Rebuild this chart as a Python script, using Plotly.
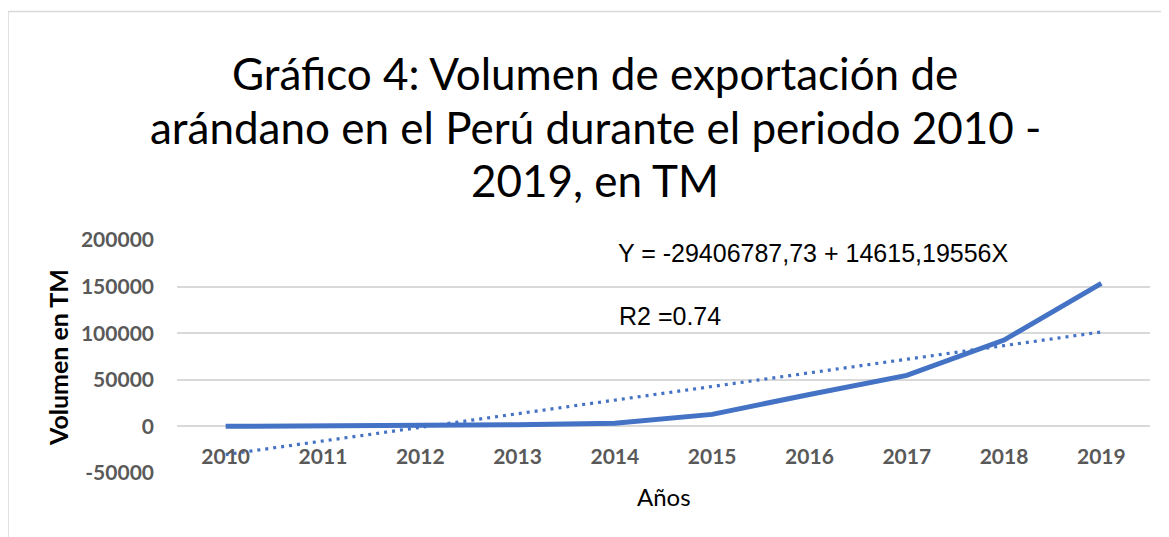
import plotly.graph_objects as go

# ---- data ----
years = ["2010", "2011", "2012", "2013", "2014", "2015", "2016", "2017", "2018", "2019"]
volumen = [100, 300, 800, 1800, 3400, 12900, 34300, 54700, 92600, 153400]
# trend line coefficients as printed on the chart
intercept = -29406787.73
slope = 14615.19556
trend = [intercept + slope * int(y) for y in years]

title_lines = ["Gráfico 4: Volumen de exportación de",
               "arándano en el Perú durante el periodo 2010 -",
               "2019, en TM"]
eq_text = "Y = -29406787,73 + 14615,19556X"
r2_text = "R2 =0.74"

OFF = 8  # page body margin
W, H = 1169 - OFF, 537 - OFF
# plot area bounds in page pixels
L, R, T, B = 177, 1150, 240, 473
pw, ph = R - L, B - T

def px(xp):
    return (xp - L) / pw

def py(yp):
    return (B - yp) / ph

BLUE = "#4472C4"
GRID = "#d9d9d9"

fig = go.Figure()
fig.add_trace(go.Scatter(x=years, y=volumen, mode="lines",
                         line=dict(color=BLUE, width=5), showlegend=False,
                         hoverinfo="skip"))
fig.add_trace(go.Scatter(x=years, y=trend, mode="lines",
                         line=dict(color=BLUE, width=3.2, dash="3px,5px"),
                         showlegend=False, hoverinfo="skip"))

tickfont = dict(family="Lato", size=21, color="#595959", weight="bold")
fig.update_layout(
    width=W, height=H,
    margin=dict(l=L - OFF, r=1169 - R, t=T - OFF, b=537 - B, pad=0),
    paper_bgcolor="white", plot_bgcolor="white",
    font=dict(family="Lato", color="#595959"),
    xaxis=dict(type="category", range=[-0.5, 9.5], anchor="free", position=0.2,
               showgrid=False, zeroline=False, showline=False, ticks="",
               tickfont=tickfont, ticklabelstandoff=16),
    yaxis=dict(range=[-50000, 200000], tickvals=[-50000, 0, 50000, 100000, 150000, 200000],
               ticktext=["-50000", "0", "50000", "100000", "150000", "200000"],
               showgrid=True, gridcolor=GRID, gridwidth=1.6, zeroline=False,
               showline=False, ticks="", tickfont=tickfont, ticklabelstandoff=22),
)

# frame border (top and left edges visible)
fig.add_shape(type="line", xref="paper", yref="paper", x0=px(8), x1=px(1169),
              y0=py(11.5), y1=py(11.5), line=dict(color=GRID, width=1.5))
fig.add_shape(type="line", xref="paper", yref="paper", x0=px(8), x1=px(8),
              y0=py(11.5), y1=py(537), line=dict(color=GRID, width=1.5))

# title, one annotation per line
for i, line in enumerate(title_lines):
    fig.add_annotation(text=line, xref="paper", yref="paper", x=px(595),
                       y=py(73 + 53.5 * i), xanchor="center", yanchor="middle",
                       showarrow=False,
                       font=dict(family="Lato", size=44, color="#000000"))
# y-axis title
fig.add_annotation(text="Volumen en TM", xref="paper", yref="paper", x=px(58), y=py(358),
                   xanchor="center", yanchor="middle", textangle=-90, showarrow=False,
                   font=dict(family="Lato", size=25, color="#000000", weight="bold"))
# x-axis title
fig.add_annotation(text="Años", xref="paper", yref="paper", x=px(663.5), y=py(496),
                   xanchor="center", yanchor="middle", showarrow=False,
                   font=dict(family="Lato", size=24, color="#000000"))
# equation and R2
fig.add_annotation(text=eq_text, xref="paper", yref="paper", x=px(617), y=py(253),
                   xanchor="left", yanchor="middle", showarrow=False, bgcolor="white",
                   borderpad=0,
                   font=dict(family="Liberation Sans", size=25, color="#000000"))
fig.add_annotation(text=r2_text, xref="paper", yref="paper", x=px(617), y=py(316),
                   xanchor="left", yanchor="middle", showarrow=False,
                   font=dict(family="Liberation Sans", size=25, color="#000000"))

fig.write_html("out.html")
